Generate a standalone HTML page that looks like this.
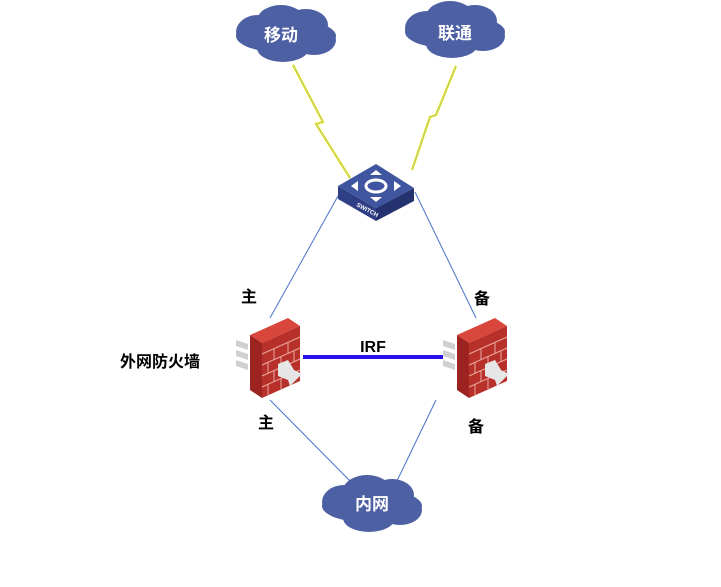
<!DOCTYPE html>
<html><head><meta charset="utf-8"><style>
html,body{margin:0;padding:0;background:#fff;width:721px;height:587px;overflow:hidden}
svg{display:block}
text{font-family:"Liberation Sans","Noto Sans CJK SC",sans-serif}
</style></head><body>
<svg width="721" height="587" viewBox="0 0 721 587" xmlns="http://www.w3.org/2000/svg">
<defs>
<g id="cloud">
<ellipse cx="0" cy="2" rx="50" ry="17" fill="#4e60a4"/>
<ellipse cx="-28" cy="-2" rx="22" ry="17" fill="#4e60a4"/>
<ellipse cx="-5" cy="-13" rx="24" ry="16" fill="#4e60a4"/>
<ellipse cx="20" cy="-9" rx="22" ry="16" fill="#4e60a4"/>
<ellipse cx="28" cy="6" rx="22" ry="15" fill="#4e60a4"/>
<ellipse cx="-3" cy="14" rx="26" ry="14" fill="#4e60a4"/>
</g>
<g id="fw">
<g fill="#d0d0d0">
<polygon points="-14,22 -2,26 -2,32 -14,28"/>
<polygon points="-14,32 -2,36 -2,42 -14,38"/>
<polygon points="-14,42 -2,46 -2,52 -14,48"/>
</g>
<polygon points="0,17 38,0 50,8 12,25" fill="#d9473c"/>
<polygon points="0,17 12,25 12,80 0,72" fill="#9c2320"/>
<polygon points="12,25 50,8 50,63 12,80" fill="#b8302a"/>
<g stroke="#e8a8a0" stroke-width="1" fill="none">
<path d="M12,36 L50,19 M12,47 L50,30 M12,58 L50,41 M12,69 L50,52"/>
<path d="M24,31 V42 M38,25 V36 M18,44 V55 M31,38 V49 M44,33 V44 M24,53 V64 M38,47 V58 M18,66 V77 M31,60 V71"/>
</g>
<polygon points="28,46 38,42 44,52 52,56 40,68 38,62 28,58" fill="#e6e6e6"/>
</g>
</defs>
<g stroke="#4a72c8" stroke-width="1" fill="none">
<line x1="338" y1="196" x2="270" y2="318"/>
<line x1="415" y1="192" x2="476" y2="318"/>
<line x1="270" y1="400" x2="352" y2="483"/>
<line x1="436" y1="400" x2="395" y2="485"/>
</g>
<polyline points="293,65 323,122 316,124 350,178" fill="none" stroke="#eeee30" stroke-width="2.5"/>
<polyline points="293,65 323,122 316,124 350,178" fill="none" stroke="#9aaa9a" stroke-width="0.6"/>
<polyline points="456,66 436,115 430,117 412,170" fill="none" stroke="#eeee30" stroke-width="2.5"/>
<polyline points="456,66 436,115 430,117 412,170" fill="none" stroke="#9aaa9a" stroke-width="0.6"/>
<use href="#cloud" x="286" y="34"/>
<use href="#cloud" x="455" y="30"/>
<use href="#cloud" x="372" y="504"/>
<text x="281" y="41" font-size="17" font-weight="bold" fill="#fff" text-anchor="middle">移动</text>
<text x="455" y="39" font-size="17" font-weight="bold" fill="#fff" text-anchor="middle">联通</text>
<text x="372" y="510" font-size="17" font-weight="bold" fill="#fff" text-anchor="middle">内网</text>
<polygon points="338,186 376,208 376,221 338,199" fill="#2f3f85"/>
<polygon points="376,208 414,188 414,201 376,221" fill="#24336f"/>
<polygon points="338,186 376,164 414,188 376,208" fill="#3f55a0"/>
<g fill="#fff">
<ellipse cx="376" cy="186" rx="10" ry="6" fill="none" stroke="#fff" stroke-width="3"/>
<polygon points="376,170 370,175 382,175"/>
<polygon points="376,202 370,197 382,197"/>
<polygon points="351,186 358,181 358,191"/>
<polygon points="401,186 394,181 394,191"/>
</g>
<text x="356" y="206" font-size="6" font-weight="bold" fill="#fff" transform="rotate(28 356 206)">SWITCH</text>
<use href="#fw" x="250" y="318"/>
<use href="#fw" x="457" y="318"/>
<line x1="303" y1="357" x2="443" y2="357" stroke="#2a10f0" stroke-width="4"/>
<text x="373" y="352" font-size="16" font-weight="bold" text-anchor="middle" fill="#000">IRF</text>
<text x="249" y="302" font-size="16" font-weight="bold" text-anchor="middle">主</text>
<text x="482" y="304" font-size="16" font-weight="bold" text-anchor="middle">备</text>
<text x="160" y="367" font-size="16" font-weight="bold" text-anchor="middle">外网防火墙</text>
<text x="266" y="428" font-size="16" font-weight="bold" text-anchor="middle">主</text>
<text x="476" y="432" font-size="16" font-weight="bold" text-anchor="middle">备</text>
</svg>
</body></html>
